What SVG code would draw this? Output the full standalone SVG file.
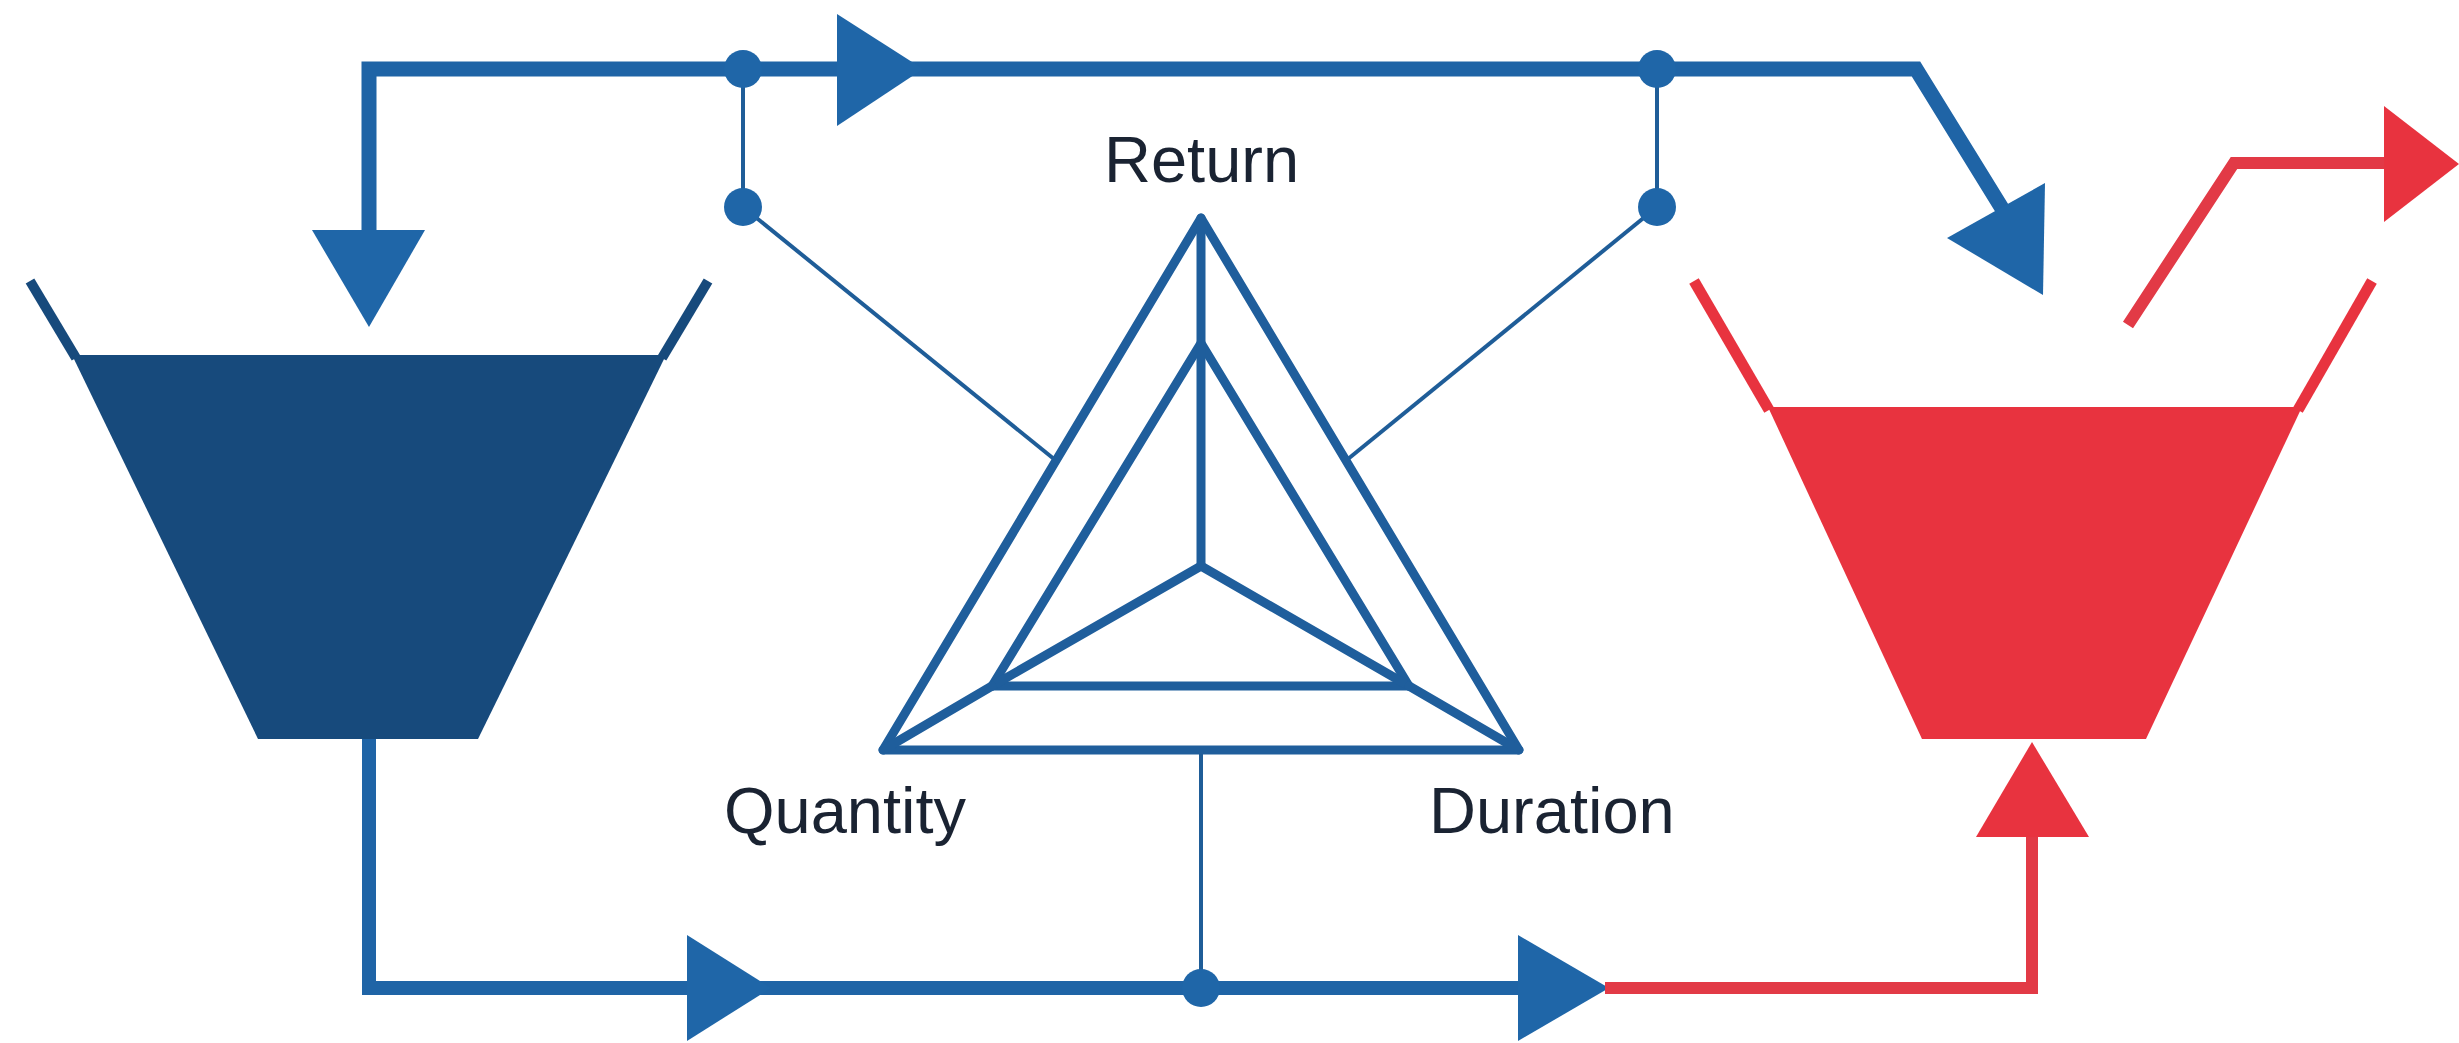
<svg xmlns="http://www.w3.org/2000/svg" width="2459" height="1043" viewBox="0 0 2459 1043">
<style>
.flow{fill:none;stroke:#1f64a6;stroke-width:15;stroke-linejoin:miter;stroke-linecap:butt}
.rflow{fill:none;stroke:#e23a46;stroke-width:12;stroke-linejoin:miter}
.thin{fill:none;stroke:#1f5d98;stroke-width:4}
.tri{fill:none;stroke:#1f5e9c;stroke-width:9;stroke-linejoin:round;stroke-linecap:round}
.head{fill:#1f66a8}
.rhead{fill:#e8333f}
.dot{fill:#1f66a8}
.lbl{font-family:"Liberation Sans",Arial,sans-serif;font-size:65px;fill:#1a2332}
</style>
<rect width="2459" height="1043" fill="#ffffff"/>
<g id="connectors">
  <polyline class="flow" points="369,232 369,69 1916,69 2003,210"/>
  <polygon class="head" points="837,14 923,69 837,126"/>
  <polygon class="head" points="312,230 425,230 369,327"/>
  <polygon class="head" points="2045,183 1947,238 2043,295"/>
  <line class="thin" x1="743" y1="69" x2="743" y2="207"/>
  <line class="thin" x1="1657" y1="69" x2="1657" y2="207"/>
  <line class="thin" x1="743" y1="207" x2="1054" y2="459"/>
  <line class="thin" x1="1657" y1="207" x2="1348" y2="459"/>
  <line class="thin" x1="1201" y1="752" x2="1201" y2="988"/>
  <polyline class="flow" points="369,739 369,988 1520,988" style="stroke-width:14"/>
  <polygon class="head" points="687,935 771,988 687,1041"/>
  <polygon class="head" points="1518,935 1609,988 1518,1041"/>
  <polyline class="rflow" points="1605,988 2032,988 2032,830"/>
  <polygon class="rhead" points="2032,742 2089,837 1976,837"/>
  <polyline class="rflow" points="2128,325 2234,163 2390,163"/>
  <polygon class="rhead" points="2384,106 2459,164 2384,222"/>
  <circle class="dot" cx="743" cy="69" r="19"/>
  <circle class="dot" cx="743" cy="207" r="19"/>
  <circle class="dot" cx="1657" cy="69" r="19"/>
  <circle class="dot" cx="1657" cy="207" r="19"/>
  <circle class="dot" cx="1201" cy="988" r="19"/>
</g>
<g id="source-funnel">
  <line x1="30" y1="281" x2="76" y2="358" stroke="#174a7c" stroke-width="10"/>
  <line x1="708" y1="281" x2="662" y2="358" stroke="#174a7c" stroke-width="10"/>
  <polygon points="72,355 666,355 478,739 258,739" fill="#174a7c"/>
</g>
<g id="target-funnel">
  <line x1="1694" y1="281" x2="1769" y2="410" stroke="#e8333f" stroke-width="11"/>
  <line x1="2372" y1="281" x2="2298" y2="410" stroke="#e8333f" stroke-width="11"/>
  <polygon points="1768,407 2302,407 2146,739 1922,739" fill="#e8333f"/>
</g>
<g id="triangle">
  <polygon class="tri" points="1201,218 1519,750 883,750"/>
  <polygon class="tri" points="1201,343 1409,686 992,686"/>
  <polyline class="tri" points="1201,218 1201,566"/>
  <polyline class="tri" points="992,686 1201,566 1409,686"/>
  <line class="tri" x1="883" y1="750" x2="992" y2="686"/>
  <line class="tri" x1="1519" y1="750" x2="1409" y2="686"/>
</g>
<g id="labels">
  <text class="lbl" x="1104" y="182">Return</text>
  <text class="lbl" x="724" y="833">Quantity</text>
  <text class="lbl" x="1429" y="833">Duration</text>
</g>
</svg>
